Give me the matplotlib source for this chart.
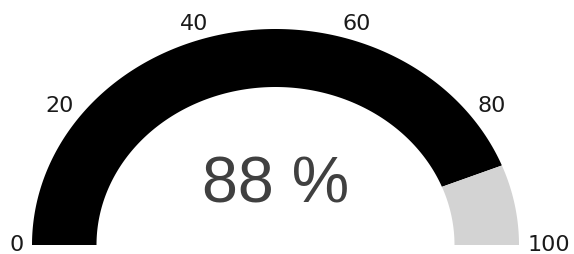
import numpy as np
import matplotlib
matplotlib.use("Agg")
import matplotlib.pyplot as plt
from matplotlib.patches import Polygon

# data
gauge_min = 0
gauge_max = 100
value = 88
value_label = "88 %"
tick_values = [0, 20, 40, 60, 80, 100]
tick_labels = ["0", "20", "40", "60", "80", "100"]

# style / layout (pixel units)
W, H = 574, 254
cx, cy = 275.5, 9.0
rx_out, ry_out = 243.5, 216.0
rx_in, ry_in = 179.0, 158.0
fill_color = "#000000"
rest_color = "#d3d3d3"
text_color = "#404040"
label_gap = 8.5

plt.rcParams['font.family'] = ['DejaVu Sans']
fig = plt.figure(figsize=(W / 100, H / 100), dpi=100)
ax = fig.add_axes([0, 0, 1, 1])
ax.set_xlim(0, W)
ax.set_ylim(0, H)
ax.axis("off")


def frac_to_angle(v):
    return np.pi * (1 - (v - gauge_min) / (gauge_max - gauge_min))


def band(v0, v1, color):
    a = np.linspace(frac_to_angle(v0), frac_to_angle(v1), 200)
    outer = np.column_stack([cx + rx_out * np.cos(a), cy + ry_out * np.sin(a)])
    inner = np.column_stack([cx + rx_in * np.cos(a[::-1]), cy + ry_in * np.sin(a[::-1])])
    ax.add_patch(Polygon(np.vstack([outer, inner]), closed=True, facecolor=color,
                         edgecolor="none", antialiased=True))


band(gauge_min, value, fill_color)
band(value, gauge_max, rest_color)

renderer = fig.canvas.get_renderer()
for tv, tl in zip(tick_values, tick_labels):
    a = frac_to_angle(tv)
    c, s = np.cos(a), np.sin(a)
    t = ax.text(0, 0, tl, ha="center", va="center_baseline", fontsize=16,
                color="#1a1a1a")
    bb = t.get_window_extent(renderer)
    w = bb.width
    h = 12.0
    ext = abs(c) * w / 2 + abs(s) * h / 2
    x = cx + rx_out * c + (label_gap + ext) * c
    y = cy + ry_out * s + (label_gap + ext) * s
    if s < 0.3:
        y = cy + 2
    t.set_position((x, y))

ax.text(cx, H - 185.5, value_label, ha="center", va="center",
        fontsize=46.5, color=text_color, family=["Liberation Sans", "DejaVu Sans"])

fig.savefig("out.png", dpi=100)
